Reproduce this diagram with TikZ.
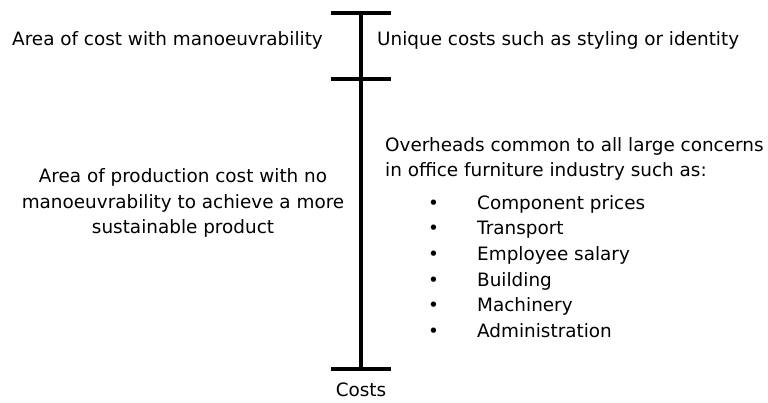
\documentclass[tikz,border=0pt]{standalone}
\usepackage{fontspec}
\setmainfont{DejaVu Sans}
\begin{document}
\begin{tikzpicture}[x=1pt,y=-1pt,
  lbl/.style={inner sep=0pt,font=\fontsize{18.4}{25.7}\selectfont},
  axis/.style={line width=4pt}]
\useasboundingbox (0,0) rectangle (768,403);
\coordinate (top) at (361,13);
\coordinate (mid) at (361,79);
\coordinate (bot) at (361,369);
\coordinate (t1) at (331,13); \coordinate (t2) at (391,13);
\coordinate (m1) at (331,79); \coordinate (m2) at (391,79);
\coordinate (b1) at (331,369); \coordinate (b2) at (391,369);
\draw[axis] (top) -- (bot);
\draw[axis] (t1) -- (t2);
\draw[axis] (m1) -- (m2);
\draw[axis] (b1) -- (b2);
\node[lbl,anchor=west] (a1) at (12,40) {Area of cost with manoeuvrability};
\node[lbl,anchor=west] (u1) at (377,40) {Unique costs such as styling or identity};
\node[lbl,align=center] (a2) at (183,203) {Area of production cost with no\\manoeuvrability to achieve a more\\sustainable product};
\node[lbl,align=left,anchor=west] (o1) at (385,159) {Overheads common to all large concerns\\in office furniture industry such as:};
\node[lbl,align=left,anchor=north west] (bl) at (428,195) {%
\makebox[49pt][l]{\textbullet}Component prices\\
\makebox[49pt][l]{\textbullet}Transport\\
\makebox[49pt][l]{\textbullet}Employee salary\\
\makebox[49pt][l]{\textbullet}Building\\
\makebox[49pt][l]{\textbullet}Machinery\\
\makebox[49pt][l]{\textbullet}Administration};
\node[lbl] (c) at (361,390) {Costs};
\end{tikzpicture}
\end{document}
